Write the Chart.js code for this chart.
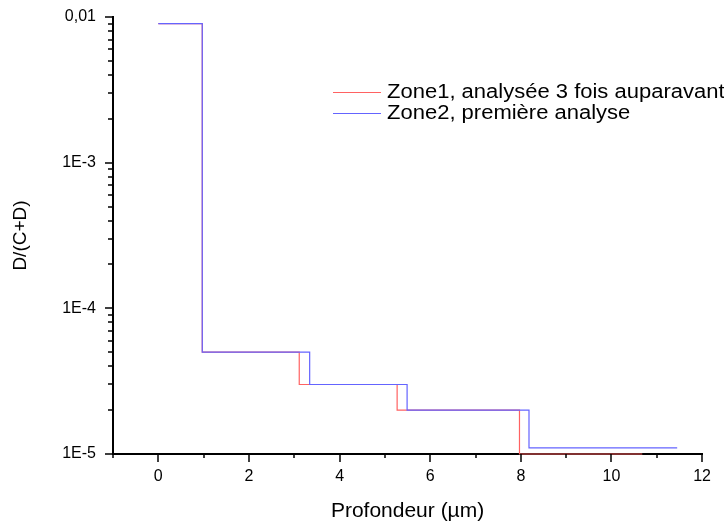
<!DOCTYPE html>
<html>
<head>
<meta charset="utf-8">
<script src="https://cdn.jsdelivr.net/npm/chart.js@4"></script>
<style>
  body { margin: 0; background: #fff; }
  canvas { display: block; }
</style>
</head>
<body>
<canvas id="myChart" width="724" height="525"></canvas>
<script>
// step start positions (µm) and D/(C+D) levels
const zone1X = [0, 0.97, 3.11, 5.27, 7.97, 10.68]
const zone1Y = [0.009, 5e-5, 3e-5, 2e-5, 1e-5, 1e-5]
const zone2X = [0, 0.97, 3.34, 5.49, 8.18, 11.45]
const zone2Y = [0.009, 5e-5, 3e-5, 2e-5, 1.1e-5, 1.1e-5]

const labels = ["Zone1, analysée 3 fois auparavant", "Zone2, première analyse"]
const colors = ["#ff6262", "#6464ff"]

const xMajorTicks = [0, 2, 4, 6, 8, 10, 12]
const xMinorTicks = [-1, 1, 3, 5, 7, 9, 11]
const yMajorTicks = [1e-5, 1e-4, 1e-3, 1e-2]

const fontFamily = "'Liberation Sans', Arial, sans-serif"

const toPoints = (xs, ys) => xs.map((x, i) => ({ x: x, y: ys[i] }))

const formatY = (v) => {
  if (v >= 0.01) return "0,01"
  return "1E" + Math.round(Math.log10(v))
}

// Origin style tick marks (major + minor) and the legend inside the plot
const originAxes = {
  id: "originAxes",
  afterDraw(chart) {
    const { ctx, chartArea, scales } = chart
    const x = scales.x
    const y = scales.y
    ctx.save()
    ctx.strokeStyle = "#000"
    ctx.lineWidth = 1.5
    ctx.beginPath()
    xMajorTicks.forEach((v) => {
      const px = Math.round(x.getPixelForValue(v))
      ctx.moveTo(px, chartArea.bottom)
      ctx.lineTo(px, chartArea.bottom + 8)
    })
    xMinorTicks.forEach((v) => {
      const px = Math.round(x.getPixelForValue(v))
      ctx.moveTo(px, chartArea.bottom)
      ctx.lineTo(px, chartArea.bottom + 4)
    })
    yMajorTicks.forEach((v) => {
      const py = Math.round(y.getPixelForValue(v))
      ctx.moveTo(chartArea.left, py)
      ctx.lineTo(chartArea.left - 8, py)
    })
    for (let e = -5; e < -2; e++) {
      for (let k = 2; k <= 9; k++) {
        const py = Math.round(y.getPixelForValue(k * Math.pow(10, e)))
        ctx.moveTo(chartArea.left, py)
        ctx.lineTo(chartArea.left - 5, py)
      }
    }
    ctx.stroke()

    // legend (text is a little wide in the original, so stretch it)
    labels.forEach((label, i) => {
      const ly = 92 + i * 21
      ctx.strokeStyle = colors[i]
      ctx.lineWidth = 1.2
      ctx.beginPath()
      ctx.moveTo(333, ly + 0.5)
      ctx.lineTo(381, ly + 0.5)
      ctx.stroke()
      ctx.save()
      ctx.translate(387, ly)
      ctx.scale(1.1, 1)
      ctx.font = "20px " + fontFamily
      ctx.textBaseline = "middle"
      ctx.fillStyle = "#000"
      ctx.fillText(label, 0, 0)
      ctx.restore()
    })
    ctx.restore()
  },
}

const ctx = document.getElementById("myChart").getContext("2d")
const myChart = new Chart(ctx, {
  type: "line",
  data: {
    datasets: [
      {
        label: labels[0],
        data: toPoints(zone1X, zone1Y),
        borderColor: colors[0],
        borderWidth: 1.2,
        pointRadius: 0,
        stepped: "before",
        clip: 3,
        order: 1,
      },
      {
        label: labels[1],
        data: toPoints(zone2X, zone2Y),
        borderColor: colors[1],
        borderWidth: 1.2,
        pointRadius: 0,
        stepped: "before",
        clip: 3,
        order: 0,
      },
    ],
  },
  options: {
    responsive: false,
    animation: false,
    layout: { padding: { top: 17, right: 18, left: 0, bottom: 0 } },
    plugins: {
      legend: { display: false },
      tooltip: { enabled: false },
    },
    scales: {
      x: {
        type: "linear",
        min: -1,
        max: 12,
        grid: { display: false, drawTicks: false },
        border: { display: true, color: "#000", width: 2 },
        afterBuildTicks: (scale) => {
          scale.ticks = xMajorTicks.map((v) => ({ value: v }))
        },
        afterFit: (scale) => {
          scale.height = 71
        },
        ticks: {
          color: "#000",
          padding: 13,
          maxRotation: 0,
          font: { family: fontFamily, size: 16 },
        },
        title: {
          display: true,
          text: "Profondeur (µm)",
          color: "#000",
          padding: { bottom: 1 },
          font: { family: fontFamily, size: 21 },
        },
      },
      y: {
        type: "logarithmic",
        min: 1e-5,
        max: 0.01,
        grid: { display: false, drawTicks: false },
        border: { display: true, color: "#000", width: 2 },
        afterBuildTicks: (scale) => {
          scale.ticks = yMajorTicks.map((v) => ({ value: v }))
        },
        afterFit: (scale) => {
          scale.width = 113
          scale.paddingTop = 0
          scale.paddingBottom = 0
        },
        ticks: {
          color: "#000",
          padding: 17,
          autoSkip: false,
          callback: (v) => formatY(v),
          font: { family: fontFamily, size: 16 },
        },
        title: {
          display: true,
          text: "D/(C+D)",
          color: "#000",
          padding: { top: 9 },
          font: { family: fontFamily, size: 19 },
        },
      },
    },
  },
  plugins: [originAxes],
})
</script>
</body>
</html>
